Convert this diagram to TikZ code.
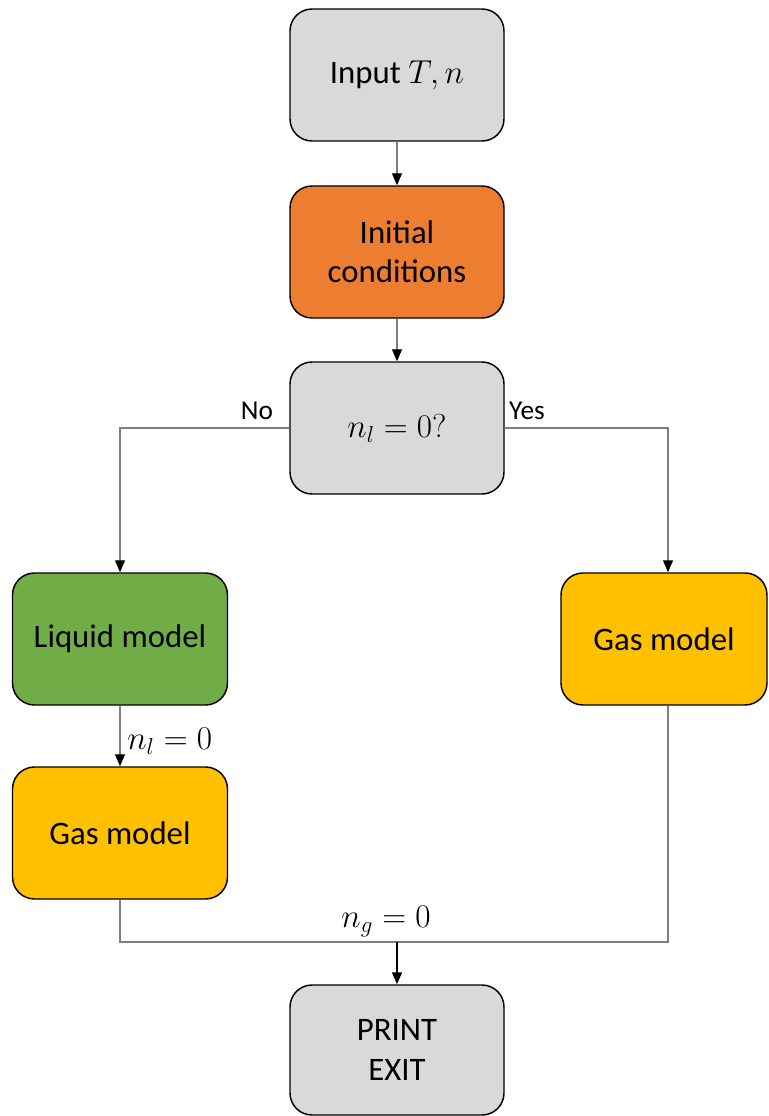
\documentclass[tikz,border=0pt]{standalone}
\usepackage{fontspec}
\setmainfont{Carlito}
\usetikzlibrary{arrows.meta,calc}
\definecolor{boxgray}{HTML}{D9D9D9}
\definecolor{boxorange}{HTML}{ED7D31}
\definecolor{boxgreen}{HTML}{70AD47}
\definecolor{boxyellow}{HTML}{FFC000}
\definecolor{linegray}{HTML}{7F7F7F}
\begin{document}
\begin{tikzpicture}[x=0.75pt,y=-0.75pt,
  box/.style={draw=black,line width=1.1pt,rounded corners=16.5pt,
    minimum width=160.5pt,minimum height=99pt,align=center,inner sep=0pt,
    font=\fontsize{24.6}{29.5}\selectfont},
  link/.style={draw=linegray,line width=0.8pt},
  tip/.style={-{Triangle[length=9pt,width=7.5pt,color=black]}},
  lbl/.style={inner sep=0pt,font=\fontsize{20.5}{24}\selectfont},
  mathlbl/.style={inner sep=0pt,font=\fontsize{24.6}{29}\selectfont}]
  \useasboundingbox (0,0) rectangle (768,1116);

  % process boxes
  \node[box,fill=boxgray] (in) at (397,75) {Input $T, n$};
  \node[box,fill=boxorange] (init) at (397,252) {Initial\\conditions};
  \node[box,fill=boxgray] (cond) at (397,428) {$n_l = 0?$};
  \node[box,fill=boxgreen,minimum width=161.25pt] (liq) at (120,639) {Liquid model};
  \node[box,fill=boxyellow,minimum width=154.5pt] (gasR) at (664,639) {Gas model};
  \node[box,fill=boxyellow,minimum width=161.25pt] (gasL) at (120,833) {Gas model};
  \node[box,fill=boxgray,minimum height=97.5pt] (out) at (397,1050) {PRINT\\EXIT};

  % branch labels
  \node[lbl] (no) at (257,411) {No};
  \node[lbl] (yes) at (527,411) {Yes};
  \node[mathlbl,anchor=west] (nl) at (127,741) {$n_l = 0$};
  \node[mathlbl] (ng) at (386,922) {$n_g = 0$};

  % flow
  \coordinate (join) at (397,942);
  \draw[link,tip] (in) -- (init);
  \draw[link,tip] (init) -- (cond);
  \draw[link,tip] (cond.west) -| (liq.north);
  \draw[link,tip] (cond.east) -| ($(gasR.north)+(4,0)$);
  \draw[link,tip] (liq) -- (gasL);
  \draw[link] (gasL.south) |- (join);
  \draw[link] ($(gasR.south)+(4,0)$) |- (join);
  \draw[black,line width=1.2pt,-{Triangle[length=9pt,width=7.5pt]}] (join) -- (out);
\end{tikzpicture}
\end{document}
